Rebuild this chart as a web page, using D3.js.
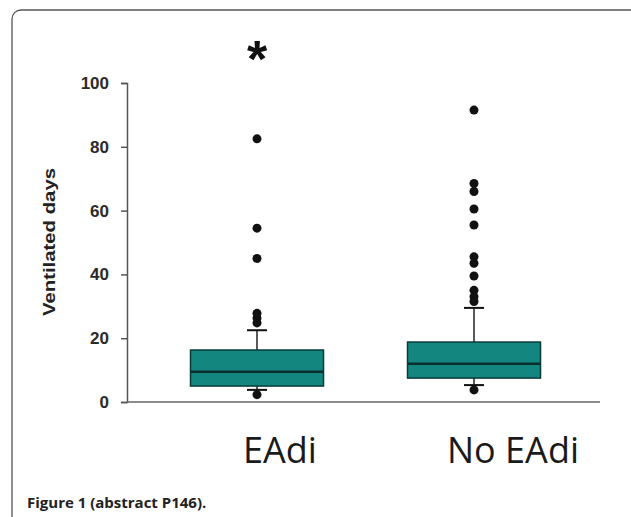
<!DOCTYPE html>
<html>
<head>
<meta charset="utf-8">
<script src="https://cdn.jsdelivr.net/npm/d3@7"></script>
<style>
  body { margin: 0; background: #fff; }
  svg { display: block; }
</style>
</head>
<body>
<div id="chart"></div>
<script>
// data
var groups = ["EAdi", "No EAdi"];
var whiskerLow  = [3.8, 5.3];
var q1          = [5.0, 7.5];
var medians     = [9.5, 12.0];
var q3          = [16.3, 18.8];
var whiskerHigh = [22.5, 29.5];
var outliers = [
  [82.5, 54.5, 45, 27.8, 26.3, 24.8, 2.3],
  [91.5, 68.5, 66, 60.5, 55.5, 45.5, 43.5, 39.5, 35, 33, 31.5, 3.8]
];
var yTicks = [0, 20, 40, 60, 80, 100];

var W = 631, H = 517;

var svg = d3.select("#chart")
    .append("svg")
    .attr("width", W)
    .attr("height", H);

// panel border
svg.append("rect")
    .attr("x", 12).attr("y", 10)
    .attr("width", 640).attr("height", 600)
    .attr("rx", 9)
    .attr("fill", "none")
    .attr("stroke", "#555")
    .attr("stroke-width", 1.3);

var y = d3.scaleLinear().domain([0, 100]).range([402, 83]);
var x = d3.scalePoint().domain(groups).range([257, 474]);
var boxW = 133;

// y axis
var yAxis = svg.append("g")
    .attr("transform", "translate(127,0)")
    .call(d3.axisLeft(y).tickValues(yTicks).tickSize(6).tickPadding(12));
yAxis.select(".domain").attr("stroke", "#555").attr("stroke-width", 1.5);
yAxis.selectAll(".tick line").attr("stroke", "#555").attr("stroke-width", 1.5);
yAxis.selectAll("text")
    .attr("font-family", "Liberation Sans, Arial, sans-serif")
    .attr("font-weight", "bold")
    .attr("font-size", 17)
    .attr("fill", "#2a2a2a");

// x axis baseline
svg.append("line")
    .attr("x1", 127).attr("x2", 600)
    .attr("y1", y(0)).attr("y2", y(0))
    .attr("stroke", "#666").attr("stroke-width", 1.5);

// y label
svg.append("text")
    .attr("transform", "translate(55,242) rotate(-90)")
    .attr("text-anchor", "middle")
    .attr("font-family", "Liberation Sans, Arial, sans-serif")
    .attr("font-weight", "bold")
    .attr("font-size", 16)
    .attr("textLength", 148)
    .attr("lengthAdjust", "spacingAndGlyphs")
    .attr("fill", "#222")
    .text("Ventilated days");

var data = groups.map(function(g, i) {
  return {name: g, lo: whiskerLow[i], q1: q1[i], med: medians[i], q3: q3[i], hi: whiskerHigh[i], out: outliers[i]};
});

var box = svg.selectAll(".box")
    .data(data)
    .enter()
    .append("g")
    .attr("class", "box");

// whiskers
box.append("line")
    .attr("x1", function(d) { return x(d.name); })
    .attr("x2", function(d) { return x(d.name); })
    .attr("y1", function(d) { return y(d.hi); })
    .attr("y2", function(d) { return y(d.lo); })
    .attr("stroke", "#222").attr("stroke-width", 1.5);
box.selectAll(".cap")
    .data(function(d) { return [d.lo, d.hi].map(function(v) { return {name: d.name, v: v}; }); })
    .enter()
    .append("line")
    .attr("x1", function(d) { return x(d.name) - 10; })
    .attr("x2", function(d) { return x(d.name) + 10; })
    .attr("y1", function(d) { return y(d.v); })
    .attr("y2", function(d) { return y(d.v); })
    .attr("stroke", "#111").attr("stroke-width", 2);

// boxes
box.append("rect")
    .attr("x", function(d) { return x(d.name) - boxW / 2; })
    .attr("width", boxW)
    .attr("y", function(d) { return y(d.q3); })
    .attr("height", function(d) { return y(d.q1) - y(d.q3); })
    .attr("fill", "#138680")
    .attr("stroke", "#0b3b38")
    .attr("stroke-width", 1.5);

box.append("line")
    .attr("x1", function(d) { return x(d.name) - boxW / 2; })
    .attr("x2", function(d) { return x(d.name) + boxW / 2; })
    .attr("y1", function(d) { return y(d.med); })
    .attr("y2", function(d) { return y(d.med); })
    .attr("stroke", "#0a2e2c").attr("stroke-width", 2.5);

// outlier dots
box.selectAll(".dot")
    .data(function(d) { return d.out.map(function(v) { return {name: d.name, v: v}; }); })
    .enter()
    .append("circle")
    .attr("cx", function(d) { return x(d.name); })
    .attr("cy", function(d) { return y(d.v); })
    .attr("r", 4.5)
    .attr("fill", "#111");

// significance star
svg.append("text")
    .attr("x", x("EAdi"))
    .attr("y", 77)
    .attr("text-anchor", "middle")
    .attr("font-family", "Liberation Sans, Arial, sans-serif")
    .attr("font-weight", "bold")
    .attr("font-size", 52)
    .attr("fill", "#111")
    .text("*");

// category labels
svg.selectAll(".cat")
    .data(groups)
    .enter()
    .append("text")
    .attr("x", function(d, i) { return x(d) + (i === 0 ? 23 : 39); })
    .attr("y", 463)
    .attr("text-anchor", "middle")
    .attr("font-family", "Open Sans, sans-serif")
    .attr("font-size", 36)
    .attr("fill", "#1a1a1a")
    .text(function(d) { return d; });

// caption
svg.append("text")
    .attr("x", 27)
    .attr("y", 508)
    .attr("font-family", "Open Sans, sans-serif")
    .attr("font-weight", "bold")
    .attr("font-size", 15)
    .attr("fill", "#222")
    .text("Figure 1 (abstract P146).");
</script>
</body>
</html>
